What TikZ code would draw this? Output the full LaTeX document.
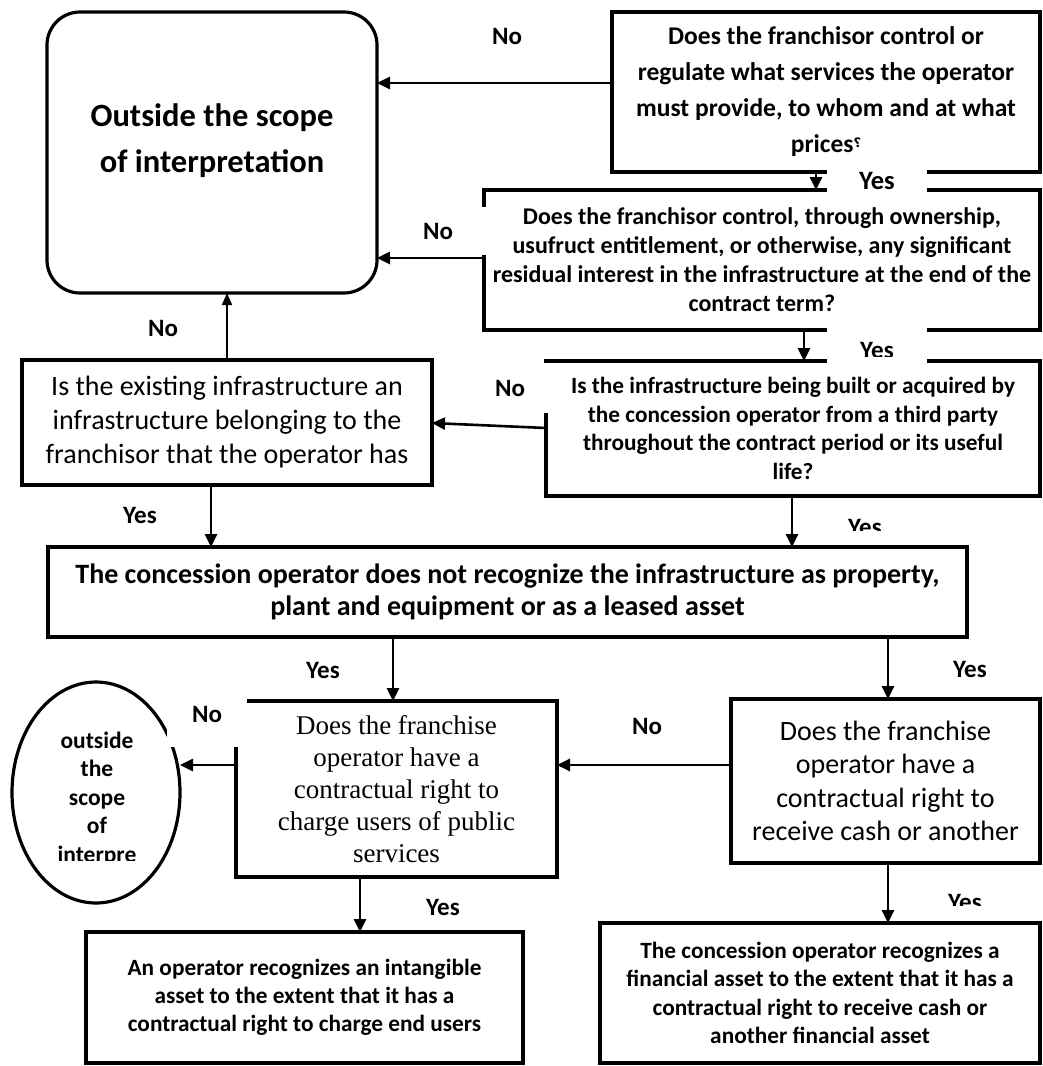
\documentclass[tikz,border=0pt]{standalone}
\usepackage{fontspec}
\setmainfont{Carlito}
\newfontfamily\timesfont{Liberation Serif}
\newfontfamily\arabicfont[Script=Arabic]{DejaVu Sans}
\TeXXeTstate=1
\usetikzlibrary{positioning,shapes.geometric,arrows.meta}

\newcommand{\fs}[2]{\fontsize{#1}{#2}\selectfont}

\tikzset{
  box/.style={draw, line width=3.2pt, inner sep=0pt, outer sep=0pt, align=center},
  arr/.style={line width=2.6pt, -{Triangle[length=13pt,width=12pt]}},
  thinarr/.style={line width=1.6pt, -{Triangle[length=12pt,width=10pt]}},
  ans/.style={font=\bfseries\fs{25}{30}, inner sep=0pt},
  mask/.style={ans, fill=white},
}

\begin{document}
\begin{tikzpicture}[x=1pt,y=-1pt]
  \useasboundingbox (0,0) rectangle (1043,1066);

  % end states
  \node[box, rounded corners=33pt, minimum width=330pt, minimum height=281pt] (outbox) at (212,152.5) {};
  \node[font=\bfseries\fs{32.5}{46}, align=center] (outtext) at (212,141) {Outside the scope\\of interpretation};
  \node[box, ellipse, minimum width=168pt, minimum height=221pt] (oval) at (96,792.5) {};
  \begin{scope}
    \clip (0,600) rectangle (200,860);
    \node[font=\bfseries\fs{23.5}{28.5}, align=center] (ovaltext) at (97,799) {outside\\the\\scope\\of\\interpre};
  \end{scope}

  % questions
  \node[box, minimum width=428pt, minimum height=160pt, font=\bfseries\fs{25.5}{36}] (q1) at (826,92)
    {Does the franchisor control or\\regulate what services the operator\\must provide, to whom and at what\\prices\raisebox{5pt}{\arabicfont\fs{13}{13}\beginR ؟\endR}};
  \node[box, minimum width=556pt, minimum height=140pt, font=\bfseries\fs{24}{29}] (q2) at (762,260)
    {Does the franchisor control, through ownership,\\usufruct entitlement, or otherwise, any significant\\residual interest in the infrastructure at the end of the\\contract term?};
  \node[box, minimum width=494pt, minimum height=135pt, font=\bfseries\fs{23.3}{28.5}] (q3) at (793,428.5)
    {Is the infrastructure being built or acquired by\\the concession operator from a third party\\throughout the contract period or its useful\\life?};
  \node[box, minimum width=410pt, minimum height=125pt, font=\fs{28}{34}] (ex) at (227,422.5)
    {Is the existing infrastructure an\\infrastructure belonging to the\\franchisor that the operator has};
  \node[box, minimum width=919pt, minimum height=90pt, font=\bfseries\fs{28}{32}] (conc) at (507.5,592)
    {The concession operator does not recognize the infrastructure as property,\\plant and equipment or as a leased asset};
  \node[box, minimum width=321pt, minimum height=176pt, font=\timesfont\fs{27}{32}] (fr1) at (396.5,789)
    {Does the franchise\\operator have a\\contractual right to\\charge users of public\\services};
  \node[box, minimum width=309pt, minimum height=164pt, font=\fs{28}{33.5}] (fr2) at (885.5,781)
    {Does the franchise\\operator have a\\contractual right to\\receive cash or another};
  \node[box, minimum width=437pt, minimum height=131pt, font=\bfseries\fs{23.3}{28}] (intang) at (304.5,997.5)
    {An operator recognizes an intangible\\asset to the extent that it has a\\contractual right to charge end users};
  \node[box, minimum width=440pt, minimum height=140pt, font=\bfseries\fs{23.3}{28.5}] (finasset) at (820,993)
    {The concession operator recognizes a\\financial asset to the extent that it has a\\contractual right to receive cash or\\another financial asset};

  % connectors
  \draw[arr] (q1.west |- 0,83) -- (outbox.east |- 0,83);
  \draw[arr] (q2.west |- 0,258) -- (outbox.east |- 0,258);
  \draw[arr] (q1.south -| 816,0) -- (q2.north -| 816,0);
  \draw[arr] (q2.south -| 804,0) -- (q3.north -| 804,0);
  \draw[arr] (q3.west |- 0,428) -- (ex.east |- 0,423);
  \draw[thinarr] (ex.north -| 227,0) -- (outbox.south -| 227,0);
  \draw[arr] (ex.south -| 211,0) -- (conc.north -| 211,0);
  \draw[arr] (q3.south -| 792,0) -- (conc.north -| 792,0);
  \draw[arr] (conc.south -| 393,0) -- (fr1.north -| 393,0);
  \draw[arr] (conc.south -| 888,0) -- (fr2.north -| 888,0);
  \draw[arr] (fr2.west |- 0,765) -- (fr1.east |- 0,765);
  \draw[arr] (fr1.west |- 0,765) -- (oval.east |- 0,765);
  \draw[arr] (fr1.south -| 360,0) -- (intang.north -| 360,0);
  \draw[arr] (fr2.south -| 888,0) -- (finasset.north -| 888,0);

  % answers
  \node[ans] (no1) at (507,36) {No};
  \node[mask, minimum width=100pt, minimum height=23pt, font=\bfseries\fs{26.5}{30}] (yes1) at (877,181.5) {Yes};
  \node[mask, minimum width=96pt, minimum height=48pt] (no2) at (438,231) {No};
  \fill[white] (827,328) rectangle (927,364);
  \begin{scope}
    \clip (827,328) rectangle (927,356);
    \node[ans] (yes2) at (877,350) {Yes};
  \end{scope}
  \node[mask, minimum width=76pt, minimum height=50pt] (no3) at (510,388) {No};
  \node[ans] (no4) at (163,328) {No};
  \node[ans] (yes3) at (140,515) {Yes};
  \begin{scope}
    \clip (820,500) rectangle (920,530);
    \node[ans] (yes4) at (865,527) {Yes};
  \end{scope}
  \node[ans] (yes5) at (323,670) {Yes};
  \node[ans] (yes6) at (970,669) {Yes};
  \node[mask, minimum width=80pt, minimum height=66pt] (no5) at (207,714) {No};
  \node[ans] (no6) at (647,726) {No};
  \node[ans] (yes7) at (443,907) {Yes};
  \begin{scope}
    \clip (920,880) rectangle (1020,905);
    \node[ans] (yes8) at (965,902) {Yes};
  \end{scope}
\end{tikzpicture}
\end{document}
